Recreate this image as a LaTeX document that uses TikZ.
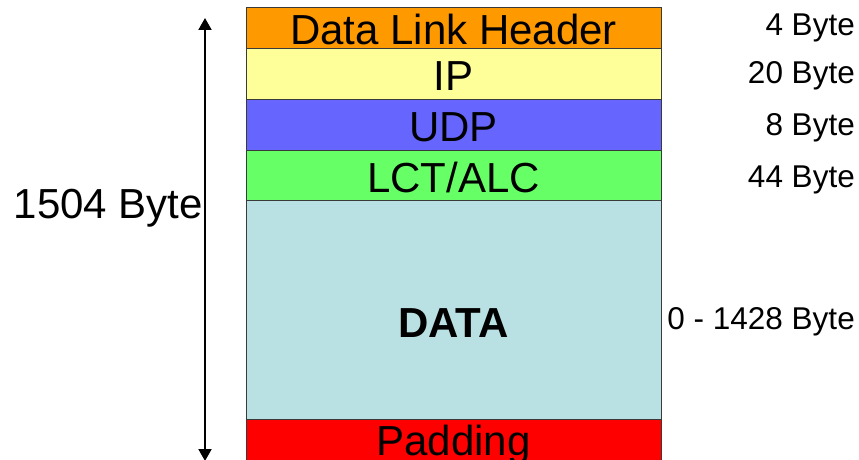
\documentclass[tikz,border=0pt]{standalone}
\usepackage{fontspec}
\setmainfont{Liberation Sans}
\usetikzlibrary{positioning,arrows.meta}
\definecolor{cHdr}{HTML}{FF9900}
\definecolor{cIp}{HTML}{FFFF99}
\definecolor{cUdp}{HTML}{6666FF}
\definecolor{cLct}{HTML}{66FF66}
\definecolor{cData}{HTML}{B9E0E3}
\definecolor{cPad}{HTML}{FF0000}
\definecolor{cEdge}{HTML}{3A3A3A}

\begin{document}
\begin{tikzpicture}[x=1pt,y=-1pt,
      row/.style={draw=cEdge,line width=1pt,minimum width=415pt,inner sep=0pt,
                  outer sep=0pt,font=\fontsize{42}{46}\selectfont,
                  text height=33pt,text depth=0pt},
      size/.style={anchor=east,inner sep=0pt,font=\fontsize{31.5}{34}\selectfont,
                   text height=22.6pt,text depth=0pt},
      span/.style={{Triangle[length=12pt,width=13pt]}-{Triangle[length=12pt,width=13pt]},
                   line width=2pt}]
    \useasboundingbox (0,0) rectangle (859,460);
    % packet layers, top to bottom
    \node[row,fill=cHdr,minimum height=41pt,anchor=north west] (hdr) at (246,8) {Data Link Header};
    \node[row,fill=cIp,minimum height=50pt,below=0pt of hdr] (ip) {IP};
    \node[row,fill=cUdp,minimum height=51pt,below=0pt of ip] (udp) {UDP};
    \node[row,fill=cLct,minimum height=50pt,below=0pt of udp,text height=34pt] (lct) {LCT/ALC};
    \node[row,fill=cData,minimum height=219pt,below=0pt of lct,
          font=\bfseries\fontsize{42}{46}\selectfont,text height=55pt] (data) {DATA};
    \node[row,fill=cPad,minimum height=41pt,below=0pt of data,text height=31pt] (pad) {Padding};
    % sizes
    \node[size] (bHdr) at (855,24.5) {4 Byte};
    \node[size] (bIp) at (855,72.5) {20 Byte};
    \node[size] (bUdp) at (855,124.5) {8 Byte};
    \node[size] (bLct) at (855,176) {44 Byte};
    \node[size] (bData) at (855,318) {0 - 1428 Byte};
    % total length
    \coordinate (top) at (205,18);
    \coordinate (bot) at (205,461);
    \draw[span] (top) -- (bot);
    \node[anchor=east,inner sep=0pt,font=\fontsize{42}{46}\selectfont,
          text height=30pt,text depth=0pt] (total) at (203,203.5) {1504 Byte};
\end{tikzpicture}
\end{document}
